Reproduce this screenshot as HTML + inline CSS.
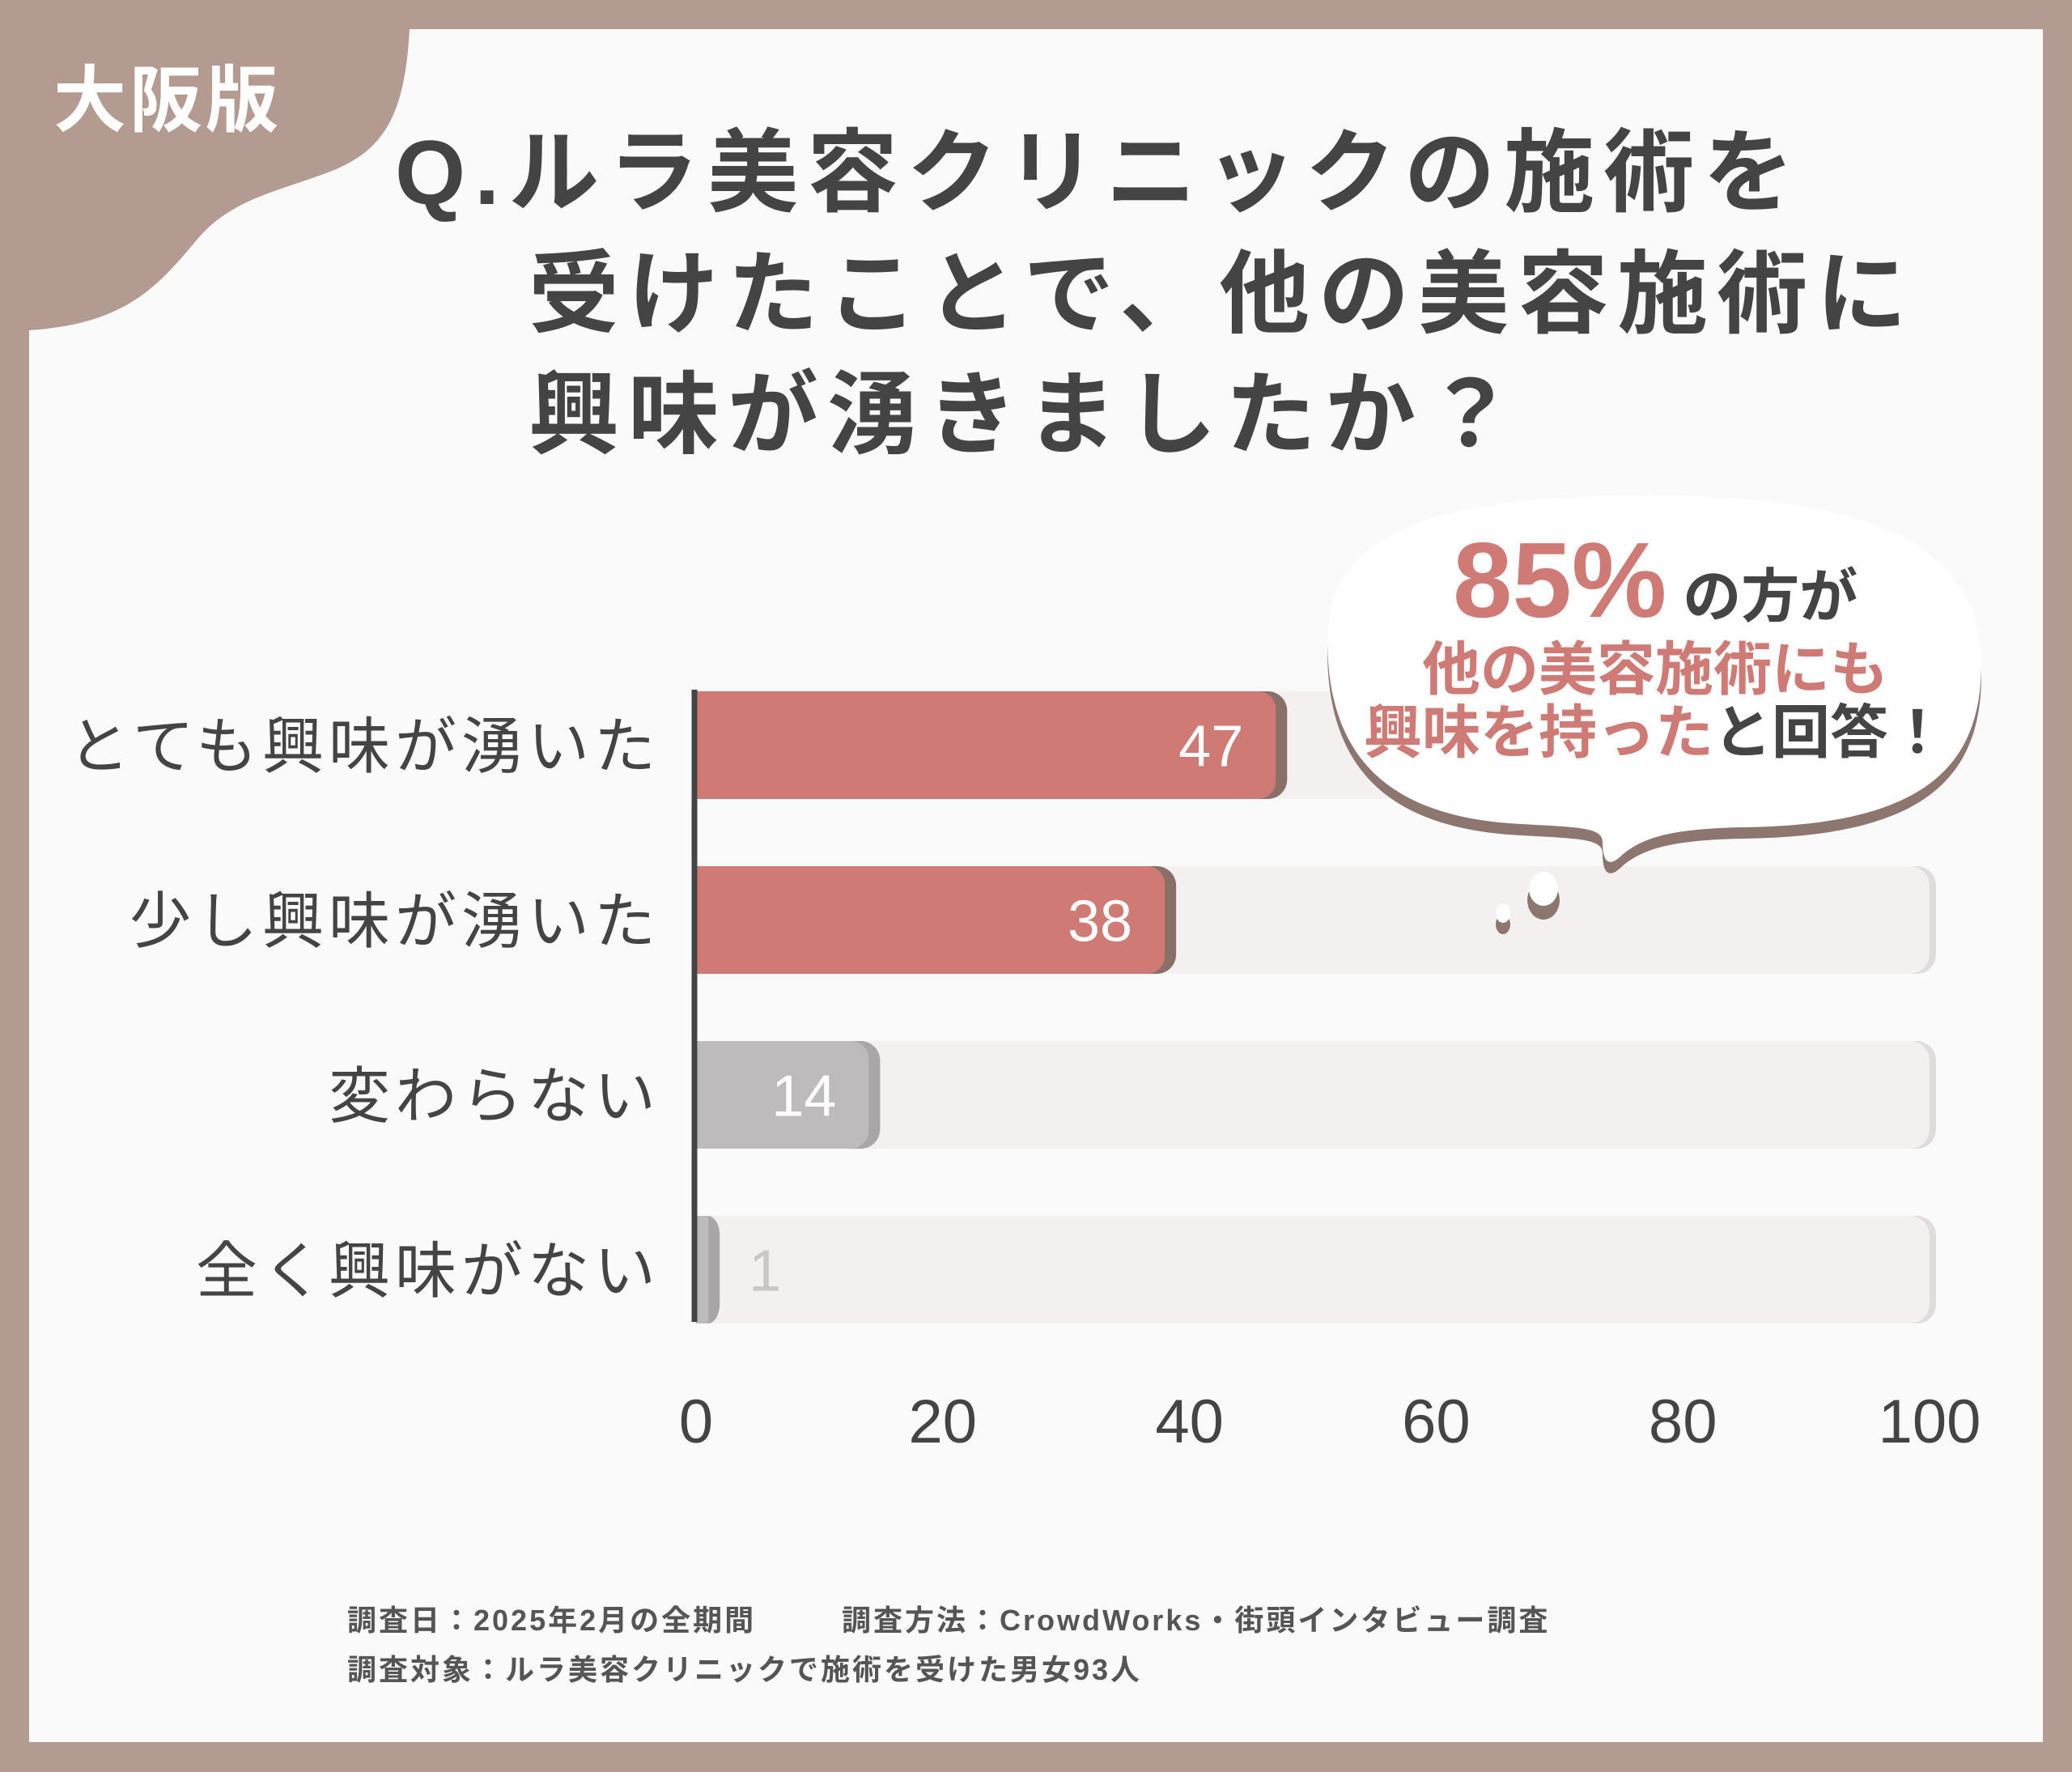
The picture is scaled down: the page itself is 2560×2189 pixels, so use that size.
<!DOCTYPE html>
<html><head><meta charset="utf-8">
<style>
html,body{margin:0;padding:0;background:#b39b92;}
svg{display:block;}
text{font-family:"Liberation Sans","Noto Sans CJK JP",sans-serif;}
</style></head>
<body>
<svg id="chart" width="2560" height="2189" viewBox="0 0 2560 2189" xmlns="http://www.w3.org/2000/svg">
  <rect x="0" y="0" width="2560" height="2189" fill="#b39b92"/>
  <rect x="36" y="36" width="2488" height="2116" fill="#fafafa"/>
  <path d="M36 36 L506 36 C500 150 470 190 400 215 C330 240 280 250 240 300 C190 360 150 400 36 408 Z" fill="#b39b92"/>
  <text x="66" y="155" font-size="90" font-weight="bold" fill="#ffffff" letter-spacing="4">大阪版</text>
  <g font-size="112" font-weight="bold" fill="#444" letter-spacing="11">
    <text x="488" y="252">Q.ルラ美容クリニックの施術を</text>
    <text x="653" y="402">受けたことで、他の美容施術に</text>
    <text x="653" y="551">興味が湧きましたか？</text>
  </g>
  <g id="bars"></g>
  <line x1="858" y1="852" x2="858" y2="1633" stroke="#444" stroke-width="7"/>
  <g id="ticks"></g>
  <g id="cats"></g>
  <g>
    <path d="M1640 790 C1640 640 1820 612 2035 612 C2260 612 2448 650 2448 820 C2448 960 2360 1020 2150 1022 C2080 1024 2030 1030 2000 1060 C1985 1072 1980 1060 1980 1040 C1980 1022 1950 1022 1880 1018 C1720 1010 1640 940 1640 790 Z" fill="#8d7570" transform="translate(0,14)"/>
    <path d="M1640 790 C1640 640 1820 612 2035 612 C2260 612 2448 650 2448 820 C2448 960 2360 1020 2150 1022 C2080 1024 2030 1030 2000 1060 C1985 1072 1980 1060 1980 1040 C1980 1022 1950 1022 1880 1018 C1720 1010 1640 940 1640 790 Z" fill="#ffffff"/>
    <text x="1795" y="762" font-size="132" font-weight="bold" fill="#d07a75">85%<tspan font-size="72" fill="#444" dx="20">の方が</tspan></text>
    <text x="2045" y="852" font-size="72" font-weight="bold" fill="#d07a75" text-anchor="middle">他の美容施術にも</text>
    <text x="2045" y="930" font-size="72" font-weight="bold" fill="#d07a75" text-anchor="middle">興味を持った<tspan fill="#444">と回答！</tspan></text>
  </g>
  <ellipse cx="1907" cy="1112" rx="20" ry="24" fill="#8d7570"/>
  <ellipse cx="1907" cy="1098" rx="18" ry="21" fill="#fff"/>
  <ellipse cx="1857" cy="1142" rx="9" ry="12" fill="#8d7570"/>
  <ellipse cx="1857" cy="1128" rx="9" ry="12" fill="#fff"/>
  <g font-size="36" font-weight="bold" fill="#555" letter-spacing="3">
    <text x="429" y="2014">調査日：2025年2月の全期間</text>
    <text x="1040" y="2014">調査方法：CrowdWorks・街頭インタビュー調査</text>
    <text x="429" y="2075">調査対象：ルラ美容クリニックで施術を受けた男女93人</text>
  </g>
</svg>
<script>
const categories = ["とても興味が湧いた","少し興味が湧いた","変わらない","全く興味がない"];
const values = [47, 38, 14, 1];
const highlight = [true, true, false, false];
const tickValues = [0, 20, 40, 60, 80, 100];
const tickLabels = ["0","20","40","60","80","100"];

const NS = "http://www.w3.org/2000/svg";
const x0 = 860, x1 = 2384, vmax = 100;
const xs = v => x0 + (x1 - x0) * v / vmax;
const rowTop = 854, rowStep = 216, barH = 133;
const ys = i => rowTop + i * rowStep;
function mk(tag, attrs){const e=document.createElementNS(NS,tag);for(const k in attrs)e.setAttribute(k,attrs[k]);return e;}
const bars = document.getElementById('bars');
categories.forEach((c,i)=>{
  const y = ys(i);
  const trS = mk('rect',{x:x0, y:y, width:xs(100)-x0+8, height:barH, rx:24, fill:'#dedcdc'});
  
  
  bars.appendChild(trS);
  const tr = mk('rect',{x:x0, y:y, width:xs(100)-x0, height:barH, rx:24, fill:'#f3f0ef'});
  
  
  bars.appendChild(tr);
  const w = xs(values[i]) - x0;
  const sh = mk('rect',{x:x0, y:y, width:Math.max(w+14,20), height:barH, rx:24, fill: highlight[i]?'#8a6e68':'#a8a6a6'});
  
  
  bars.appendChild(sh);
  const b = mk('rect',{x:x0, y:y, width:Math.max(w,12), height:barH, rx:22, fill: highlight[i]?'#cf7a74':'#bdbbbb'});
  
  
  bars.appendChild(b);
  const sq = mk('rect',{x:x0, y:y, width:Math.min(30,Math.max(w,12)), height:barH, fill: highlight[i]?'#cf7a74':'#bdbbbb'});
  
  
  bars.appendChild(sq);
  const inside = values[i] >= 5;
  const t = mk('text',{x: inside? xs(values[i])-40 : xs(values[i])+70, y:y+barH/2+26, 'font-size':72, 'text-anchor': inside?'end':'middle', fill: inside?'#ffffff':'#c8c6c6'});
  
  
  t.textContent = values[i];
  bars.appendChild(t);
  const cl = mk('text',{x:816, y:y+barH/2+28, 'font-size':76, 'text-anchor':'end', fill:'#444', 'letter-spacing':6});
  
  
  cl.textContent = c;
  document.getElementById('cats').appendChild(cl);
});
const ticks = document.getElementById('ticks');
tickValues.forEach((v,i)=>{
  const t = mk('text',{x:xs(v), y:1782, 'font-size':76, 'text-anchor':'middle', fill:'#444'});
  
  
  t.textContent = tickLabels[i];
  ticks.appendChild(t);
});
</script>
</body></html>
